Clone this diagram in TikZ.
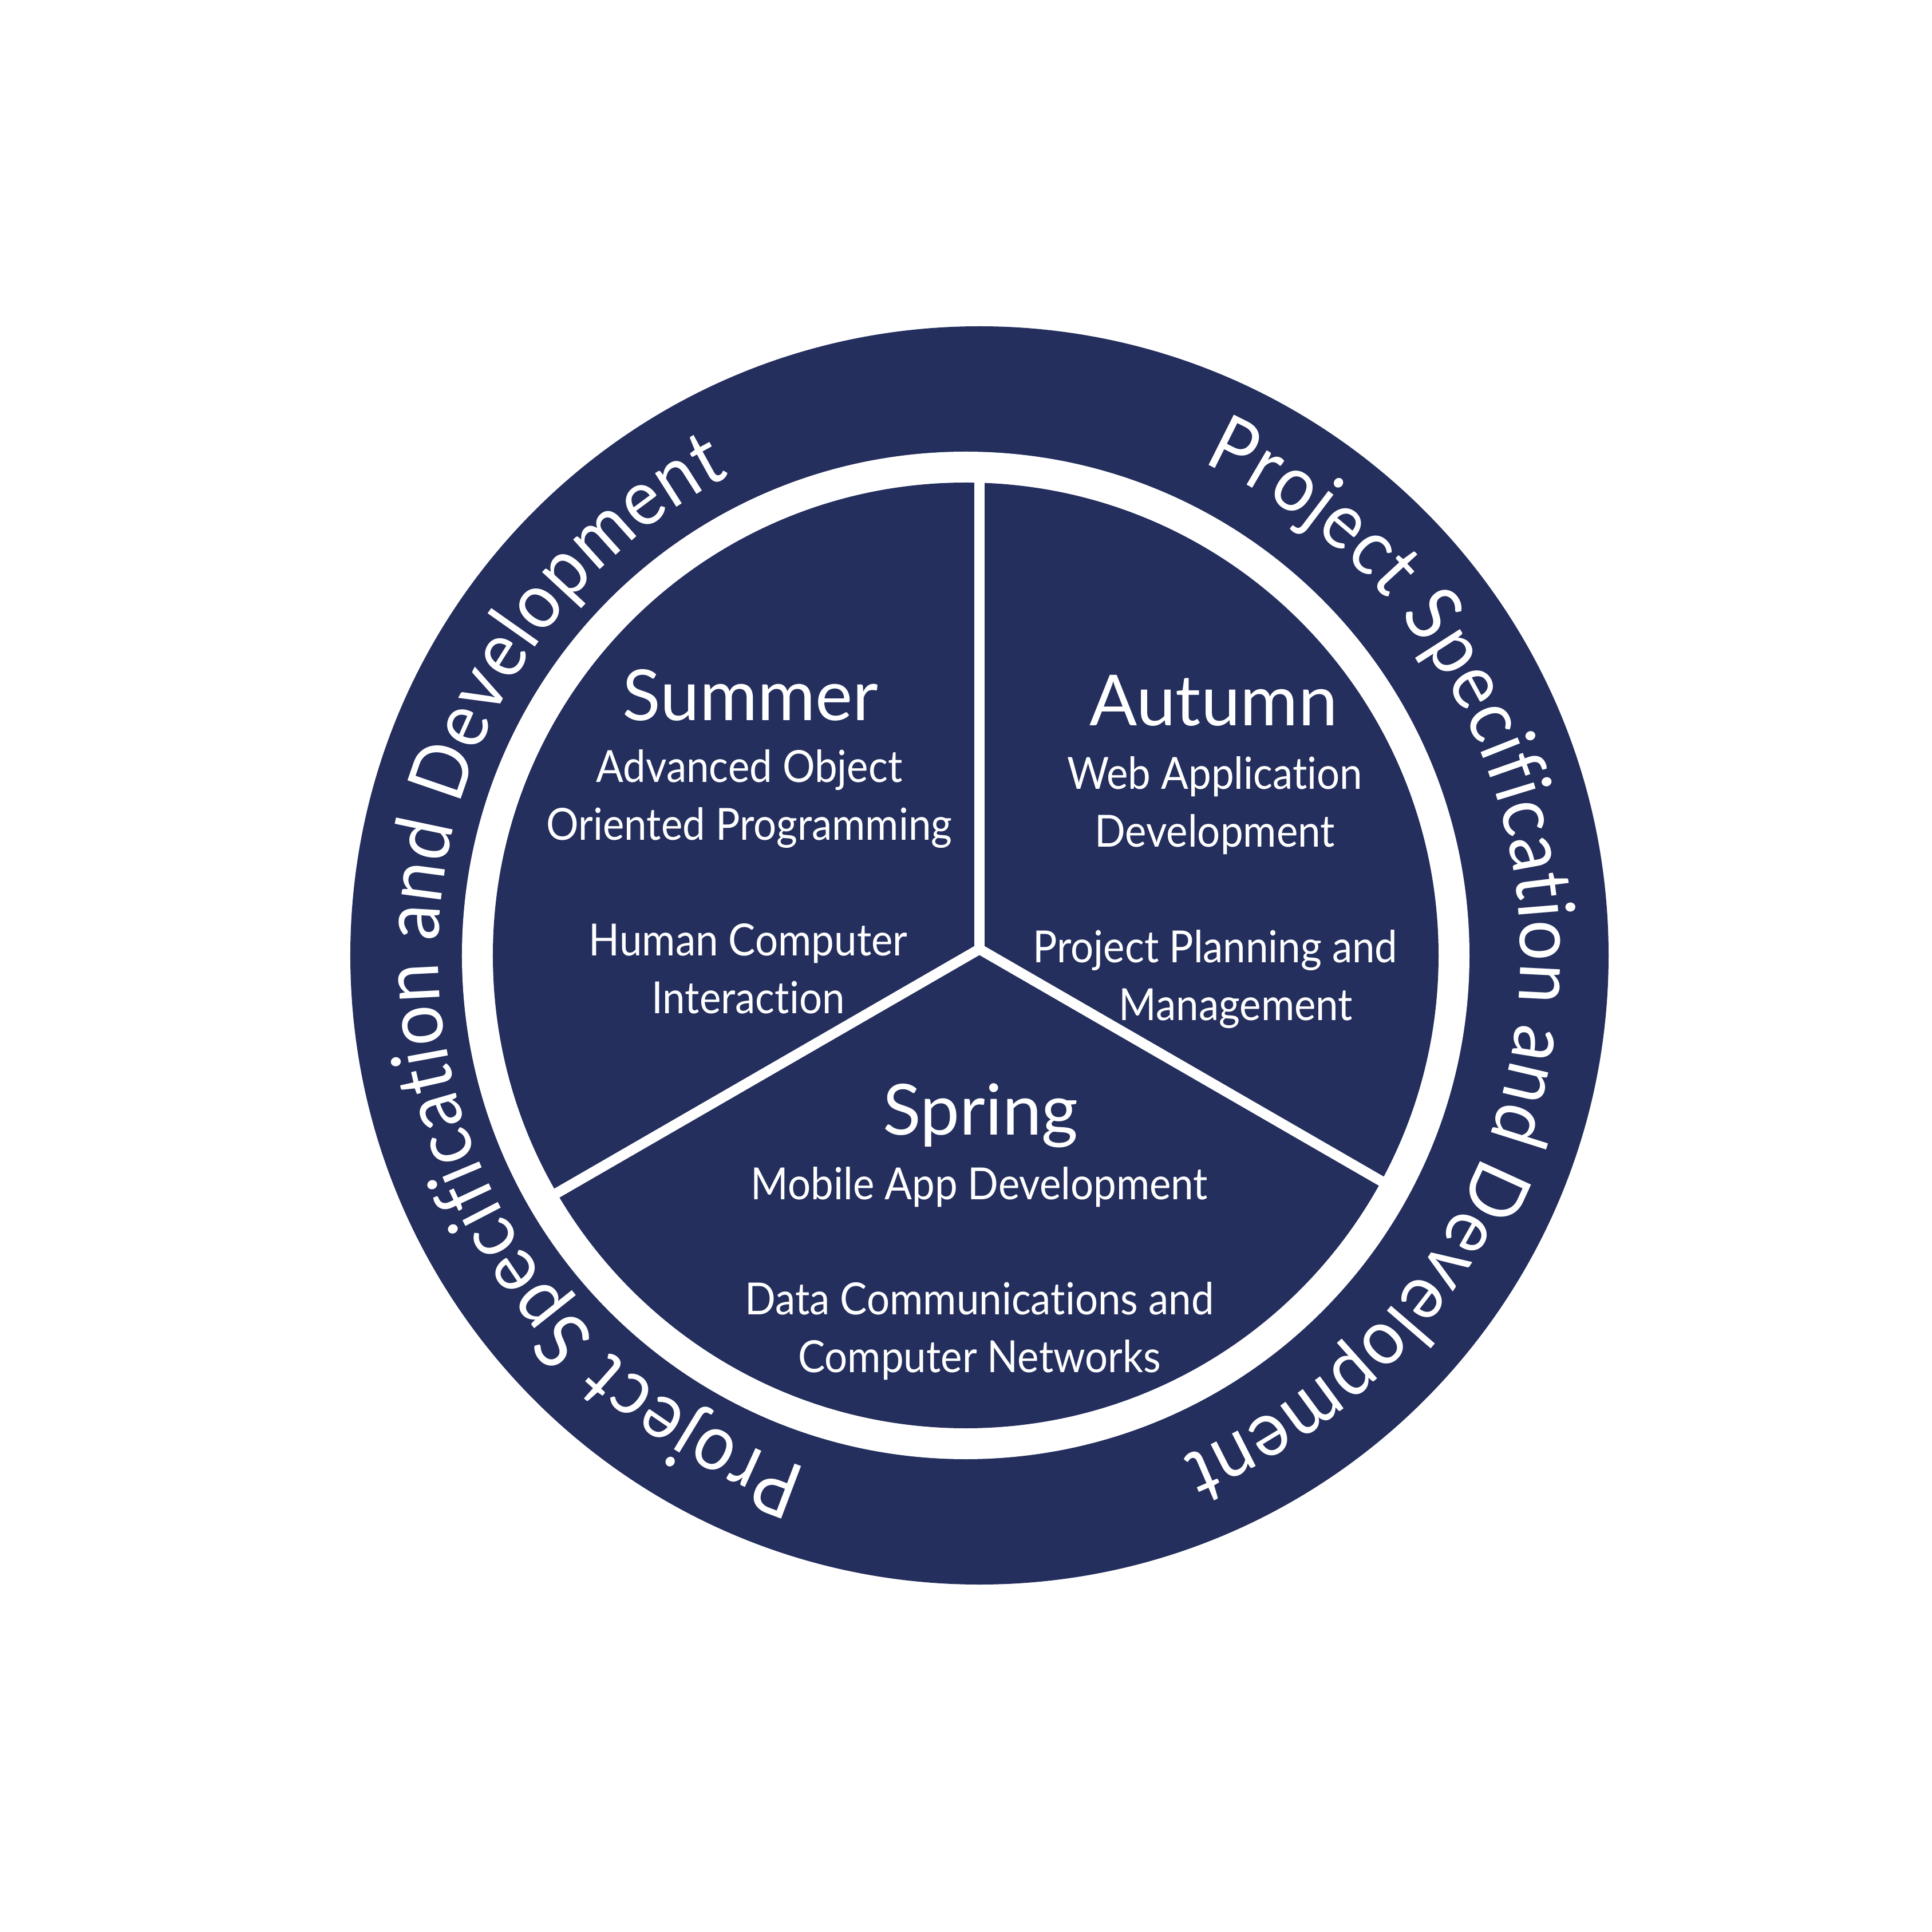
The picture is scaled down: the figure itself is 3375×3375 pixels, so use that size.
\documentclass[tikz,border=0pt]{standalone}
\usepackage{fontspec}
\setmainfont{Lato}[Ligatures=NoCommon]
\newfontfamily\narrowlato{Lato}[FakeStretch=0.915, Ligatures=NoCommon]
\usetikzlibrary{positioning,calc,decorations.text}
\definecolor{ringblue}{HTML}{242F5E}
\newcommand{\titlefont}{\fontsize{35}{40}\selectfont}
\newcommand{\subfont}{\narrowlato\fontsize{22}{28.7}\selectfont}
\newcommand{\ringfont}{\narrowlato\fontsize{39}{46}\selectfont}
\tikzset{
    season/.style  = {text=white, font=\titlefont, inner sep=0pt},
    module/.style  = {text=white, font=\subfont, align=center, inner sep=0pt},
    divider/.style = {draw=white, line width=0.18cm, line join=miter},
    ringtext/.style = {
        decorate, decoration={text along path, text align={fit to path},
        text={|\ringfont\color{white}|Project Specification and Development}}
    }
}

\begin{document}
\begin{tikzpicture}[x=0.01cm, y=0.01cm]
  \useasboundingbox (-1711,-1706) rectangle (1664,1669);

  % outer band, white ring and the pie
  \coordinate (mid) at (0,0);
  \coordinate (ringc) at (-24,0);
  \fill [ringblue] (mid) circle [radius=1099];
  \fill [white] (ringc) circle [radius=880];
  \fill [ringblue] (ringc) circle [radius=826];

  % dividers
  \coordinate (hub) at (0,11);
  \begin{scope}
    \clip (ringc) circle [radius=865];
    \draw [divider] (hub) -- ++(90:1000);
    \draw [divider] ($(hub)+(210:1000)$) -- (hub) -- ($(hub)+(330:1000)$);
  \end{scope}

  % text round the band
  \path [ringtext] (65.6:945) arc [start angle=65.6, end angle=-68, radius=945];
  \path [ringtext] (-108.5:945) arc [start angle=-108.5, end angle=-242.5, radius=945];

  \node [season] (summer) at (-400,455) {Summer};
  \node [module] (sumA) at (-402,273) {Advanced Object\\Oriented Programming};
  \node [module] (sumB) at (-404,-23) {Human Computer\\Interaction};

  \node [season] (autumn) at (409,445) {Autumn};
  \node [module] (autA) at (411,262) {Web Application\\Development};
  \node [module] (autB) at (412,-42)
        {Project Planning and\\\hspace*{0.72cm}Management};

  \node [season] (spring) at (2,-280) {Spring};
  \node [module] (sprA) at (0,-405) {Mobile App Development};
  \node [module] (sprB) at (0,-656)
        {Data Communications and\\Computer Networks};
\end{tikzpicture}
\end{document}
